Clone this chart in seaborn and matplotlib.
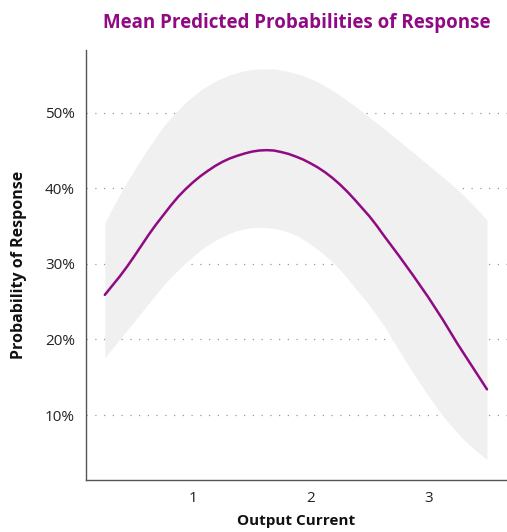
import matplotlib
matplotlib.use("Agg")
import matplotlib.pyplot as plt
import matplotlib.ticker as mticker
import seaborn as sns
import pandas as pd

# values (probabilities in %)
output_current = [0.25, 0.3125, 0.375, 0.4375, 0.5, 0.5625, 0.625, 0.6875, 0.75, 0.8125,
                  0.875, 0.9375, 1.0, 1.0625, 1.125, 1.1875, 1.25, 1.3125, 1.375, 1.4375,
                  1.5, 1.5625, 1.625, 1.6875, 1.75, 1.8125, 1.875, 1.9375, 2.0, 2.0625,
                  2.125, 2.1875, 2.25, 2.3125, 2.375, 2.4375, 2.5, 2.5625, 2.625, 2.6875,
                  2.75, 2.8125, 2.875, 2.9375, 3.0, 3.0625, 3.125, 3.1875, 3.25, 3.3125,
                  3.375, 3.4375, 3.5]
mean_prob = [25.9, 27.1, 28.3, 29.6, 31.0, 32.45, 33.9, 35.25, 36.5, 37.75,
             38.9, 39.9, 40.8, 41.6, 42.3, 42.95, 43.5, 43.95, 44.3, 44.6,
             44.85, 45.0, 45.05, 45.0, 44.8, 44.55, 44.2, 43.8, 43.3, 42.75,
             42.1, 41.35, 40.5, 39.55, 38.5, 37.4, 36.3, 35.05, 33.7, 32.4,
             31.1, 29.75, 28.4, 27.0, 25.6, 24.1, 22.6, 21.0, 19.4, 17.9,
             16.4, 14.9, 13.4]
upper_prob = [35.4, 37.3, 39.1, 40.8, 42.4, 43.95, 45.4, 46.85, 48.2, 49.35,
              50.4, 51.35, 52.2, 52.95, 53.6, 54.15, 54.6, 55.0, 55.3, 55.55,
              55.7, 55.8, 55.8, 55.8, 55.65, 55.45, 55.2, 54.9, 54.5, 54.05,
              53.5, 52.95, 52.3, 51.6, 50.9, 50.15, 49.4, 48.65, 47.9, 47.1,
              46.3, 45.5, 44.7, 43.9, 43.1, 42.3, 41.5, 40.65, 39.8, 38.9,
              37.9, 36.85, 35.8]
lower_prob = [17.6, 18.8, 20.0, 21.2, 22.4, 23.6, 24.8, 26.0, 27.2, 28.25,
              29.2, 30.15, 31.0, 31.8, 32.5, 33.1, 33.6, 34.05, 34.4, 34.65,
              34.8, 34.85, 34.8, 34.7, 34.5, 34.2, 33.8, 33.25, 32.6, 31.9,
              31.1, 30.2, 29.2, 28.1, 26.9, 25.7, 24.5, 23.2, 21.8, 20.2,
              18.6, 17.0, 15.5, 14.0, 12.6, 11.2, 9.9, 8.7, 7.6, 6.6,
              5.7, 4.9, 4.1]
x_ticks = [1, 2, 3]
y_ticks = [10, 20, 30, 40, 50]

df = pd.DataFrame({"current": output_current, "mean": mean_prob,
                   "lower": lower_prob, "upper": upper_prob})

sns.set_theme(style="white")
plt.rcParams['font.family'] = ['Open Sans', 'DejaVu Sans']

purple = "#8f0a83"

fig = plt.figure(figsize=(5.07, 5.32), dpi=100)
ax = fig.add_axes([0.1696, 0.0977, 0.8304, 0.8083])

# confidence band + mean line
ax.fill_between(df["current"], df["lower"], df["upper"], color="#f0f0f0", lw=0, zorder=1)
sns.lineplot(data=df, x="current", y="mean", color=purple, lw=1.8, ax=ax, zorder=3)

ax.set_xlim(0.09, 3.67)
ax.set_ylim(1.4, 58.3)
ax.set_xticks(x_ticks)
ax.set_yticks(y_ticks)
ax.yaxis.set_major_formatter(mticker.FuncFormatter(lambda v, p: f"{v:.0f}%"))
ax.tick_params(length=0, labelsize=11, labelcolor="#222222", pad=8)

ax.grid(axis="y", linestyle=(0, (1, 6)), color="#999999", lw=0.9, zorder=0)
ax.set_axisbelow(True)

sns.despine(ax=ax)
for s in ["left", "bottom"]:
    ax.spines[s].set_color("#555555")
    ax.spines[s].set_linewidth(1.0)

ax.set_xlabel("Output Current", fontsize=11, fontweight="bold", color="#111111", labelpad=6)
ax.set_ylabel("Probability of Response", fontsize=11.5, fontweight="bold", color="#111111", labelpad=13)
ax.set_title("Mean Predicted Probabilities of Response", fontsize=13.5, fontweight="bold",
             color=purple, pad=16)

fig.savefig("out.png", dpi=100)
